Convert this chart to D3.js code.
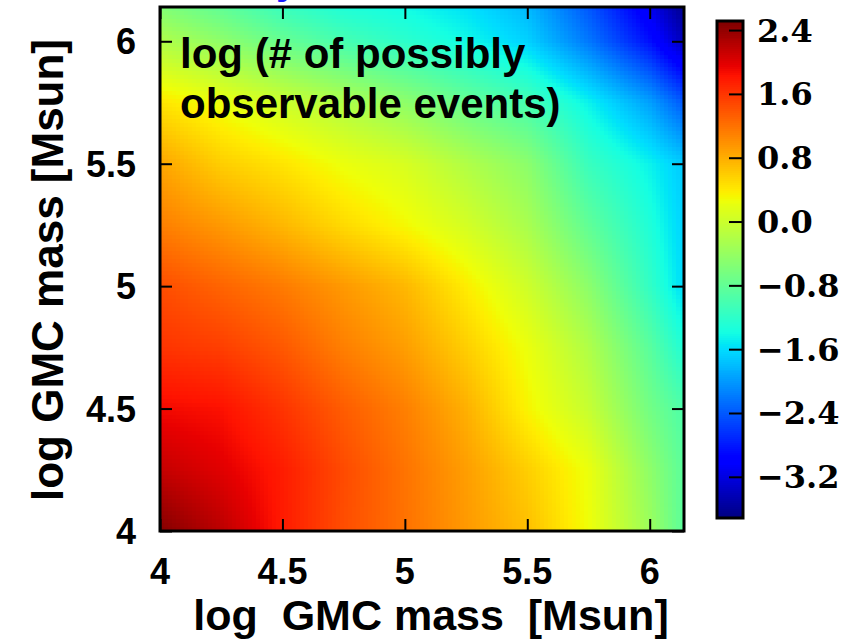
<!DOCTYPE html>
<html>
<head>
<meta charset="utf-8">
<script src="https://cdn.jsdelivr.net/npm/d3@7"></script>
<style>
  body { margin: 0; background: #fff; }
  svg { display: block; }
</style>
</head>
<body>
<svg id="chart" width="855" height="640"></svg>
<script>
const xNodes = [4, 4.25, 4.5, 4.75, 5, 5.25, 5.5, 5.75, 6, 6.14];
const yNodes = [4, 4.25, 4.5, 4.75, 5, 5.25, 5.5, 5.75, 6, 6.14];

// log(# of possibly observable events), one row per yNode (bottom to top)
const logEvents = [
  [2.5, 2.2, 1.79, 1.45, 1.21, 0.95, 0.70, 0.28, -0.35, -0.85],
  [2.15, 2.0, 1.78, 1.47, 1.2, 0.92, 0.6, 0.25, -0.45, -0.85],
  [1.9, 1.85, 1.62, 1.35, 1.12, 0.8, 0.35, -0.03, -0.66, -0.95],
  [1.62, 1.55, 1.38, 1.12, 0.92, 0.6, 0.25, -0.2, -0.85, -1.3],
  [1.45, 1.3, 1.15, 0.95, 0.75, 0.4, 0.03, -0.47, -1.15, -1.6],
  [1.12, 0.95, 0.75, 0.52, 0.32, 0.07, -0.25, -0.8, -1.3, -1.65],
  [0.87, 0.6, 0.45, 0.25, 0.1, -0.19, -0.47, -1.1, -1.45, -1.7],
  [0.45, 0.25, 0.02, -0.2, -0.45, -0.75, -1.0, -1.45, -1.95, -2.4],
  [-0.2, -0.45, -0.75, -1.0, -1.2, -1.4, -1.65, -2.2, -2.85, -3.4],
  [-0.55, -0.8, -1.1, -1.3, -1.4, -1.55, -1.8, -2.4, -3.1, -3.65]
];

const axisTicks = [4, 4.5, 5, 5.5, 6];
const axisTickLabels = ['4', '4.5', '5', '5.5', '6'];
const cbarTicks = [2.4, 1.6, 0.8, 0.0, -0.8, -1.6, -2.4, -3.2];
const cbarRange = [-3.71, 2.52];
const massDomain = [4, 6.14];

const svg = d3.select('#chart');
const margin = { top: 7, left: 160 };
const size = 524;

const x = d3.scaleLinear().domain(massDomain).range([0, size]);
const y = d3.scaleLinear().domain(massDomain).range([size, 0]);

// matplotlib "jet" built from per-channel piecewise scales
const jetR = d3.scaleLinear().domain([0, 0.35, 0.66, 0.89, 1]).range([0, 0, 1, 1, 0.5]).clamp(true);
const jetG = d3.scaleLinear().domain([0, 0.125, 0.375, 0.64, 0.91, 1]).range([0, 0, 1, 1, 0, 0]).clamp(true);
const jetB = d3.scaleLinear().domain([0, 0.11, 0.34, 0.65, 1]).range([0.5, 1, 1, 0, 0]).clamp(true);
const norm = d3.scaleLinear().domain(cbarRange).range([0, 1]).clamp(true);
const jet = v => {
  const t = norm(v);
  return d3.rgb(jetR(t) * 255, jetG(t) * 255, jetB(t) * 255).formatHex();
};

// bilinear lookup inside the grid
const locate = (nodes, v) => {
  let i = d3.bisectRight(nodes, v) - 1;
  i = Math.max(0, Math.min(nodes.length - 2, i));
  const f = (v - nodes[i]) / (nodes[i + 1] - nodes[i]);
  return [i, Math.max(0, Math.min(1, f))];
};
const field = (mx, my) => {
  const [i, fx] = locate(xNodes, mx);
  const [j, fy] = locate(yNodes, my);
  const a = logEvents[j][i], b = logEvents[j][i + 1];
  const c = logEvents[j + 1][i], d = logEvents[j + 1][i + 1];
  return (a * (1 - fx) + b * fx) * (1 - fy) + (c * (1 - fx) + d * fx) * fy;
};

const g = svg.append('g').attr('transform', `translate(${margin.left},${margin.top})`);

// heat map cells
const step = 4;
const cells = [];
for (let py = 0; py < size; py += step) {
  for (let px = 0; px < size; px += step) {
    const mx = x.invert(px + step / 2);
    const my = y.invert(py + step / 2);
    cells.push({ mx0: x.invert(px), my0: y.invert(py), v: field(mx, my) });
  }
}
g.append('g')
  .attr('shape-rendering', 'crispEdges')
  .selectAll('rect')
  .data(cells)
  .enter().append('rect')
  .attr('x', d => x(d.mx0))
  .attr('y', d => y(d.my0))
  .attr('width', d => Math.min(step + 0.5, size - x(d.mx0)))
  .attr('height', d => Math.min(step + 0.5, size - y(d.my0)))
  .attr('fill', d => jet(d.v));

// inward ticks on all four sides
const tickLen = 12;
const axes = [
  { axis: d3.axisBottom(x), t: `translate(0,${size})` },
  { axis: d3.axisTop(x), t: 'translate(0,0)' },
  { axis: d3.axisLeft(y), t: 'translate(0,0)' },
  { axis: d3.axisRight(y), t: `translate(${size},0)` }
];
axes.forEach(a => {
  const ag = g.append('g')
    .attr('transform', a.t)
    .call(a.axis.tickValues(axisTicks).tickSizeInner(-tickLen).tickSizeOuter(0).tickFormat(''));
  ag.select('.domain').remove();
  ag.selectAll('line').attr('stroke', '#000').attr('stroke-width', 2);
});

g.append('rect')
  .attr('width', size).attr('height', size)
  .attr('fill', 'none').attr('stroke', '#000').attr('stroke-width', 3);

// tick labels
const labelFont = '"Liberation Sans", Arial, sans-serif';
g.selectAll('.xlab')
  .data(axisTicks)
  .enter().append('text')
  .attr('x', d => x(d))
  .attr('y', size + 53)
  .attr('text-anchor', 'middle')
  .style('font-family', labelFont).style('font-weight', 'bold').style('font-size', '36px')
  .text((d, i) => axisTickLabels[i]);

g.selectAll('.ylab')
  .data(axisTicks)
  .enter().append('text')
  .attr('x', -24)
  .attr('y', d => y(d) + 13)
  .attr('text-anchor', 'end')
  .style('font-family', labelFont).style('font-weight', 'bold').style('font-size', '36px')
  .text((d, i) => axisTickLabels[i]);

// axis titles
svg.append('text')
  .attr('x', 431).attr('y', 630)
  .attr('text-anchor', 'middle')
  .style('font-family', labelFont).style('font-weight', 'bold').style('font-size', '43px')
  .style('white-space', 'pre')
  .text('log  GMC mass  [Msun]');

svg.append('text')
  .attr('transform', 'translate(63,270) rotate(-90)')
  .attr('text-anchor', 'middle')
  .style('font-family', labelFont).style('font-weight', 'bold').style('font-size', '44px')
  .text('log GMC mass [Msun]');

// annotation inside the panel
const note = g.append('text')
  .style('font-family', labelFont).style('font-weight', 'bold').style('font-size', '42px');
note.append('tspan').attr('x', 20).attr('y', 61).text('log (# of possibly');
note.append('tspan').attr('x', 20).attr('y', 111).text('observable events)');

// clipped title remnant at the very top
svg.append('text')
  .attr('x', 287).attr('y', -6)
  .attr('text-anchor', 'middle')
  .attr('fill', '#1a1aff')
  .style('font-family', labelFont).style('font-weight', 'bold').style('font-size', '40px')
  .text('y');

// colour bar
const cb = { x: 717, y: 21, w: 26, h: 497 };
const cy = d3.scaleLinear().domain(cbarRange).range([cb.y + cb.h, cb.y]);
const cbSteps = d3.range(0, 250).map(i => cbarRange[0] + (cbarRange[1] - cbarRange[0]) * i / 250);
const dv = (cbarRange[1] - cbarRange[0]) / 250;
svg.append('g')
  .attr('shape-rendering', 'crispEdges')
  .selectAll('rect')
  .data(cbSteps)
  .enter().append('rect')
  .attr('x', cb.x)
  .attr('y', d => cy(d + dv))
  .attr('width', cb.w)
  .attr('height', d => cy(d) - cy(d + dv) + 0.6)
  .attr('fill', d => jet(d + dv / 2));

svg.append('g')
  .selectAll('line')
  .data(cbarTicks)
  .enter().append('line')
  .attr('x1', cb.x + cb.w - 14).attr('x2', cb.x + cb.w)
  .attr('y1', d => cy(d)).attr('y2', d => cy(d))
  .attr('stroke', '#000').attr('stroke-width', 2);

svg.append('rect')
  .attr('x', cb.x).attr('y', cb.y).attr('width', cb.w).attr('height', cb.h)
  .attr('fill', 'none').attr('stroke', '#000').attr('stroke-width', 3);

svg.append('g')
  .selectAll('text')
  .data(cbarTicks)
  .enter().append('text')
  .attr('x', 757)
  .attr('y', d => cy(d) + 11)
  .style('font-family', '"DejaVu Serif", serif').style('font-weight', 'bold').style('font-size', '32px')
  .text(d => d3.format('.1f')(d).replace('-', '\u2212'));
</script>
</body>
</html>
